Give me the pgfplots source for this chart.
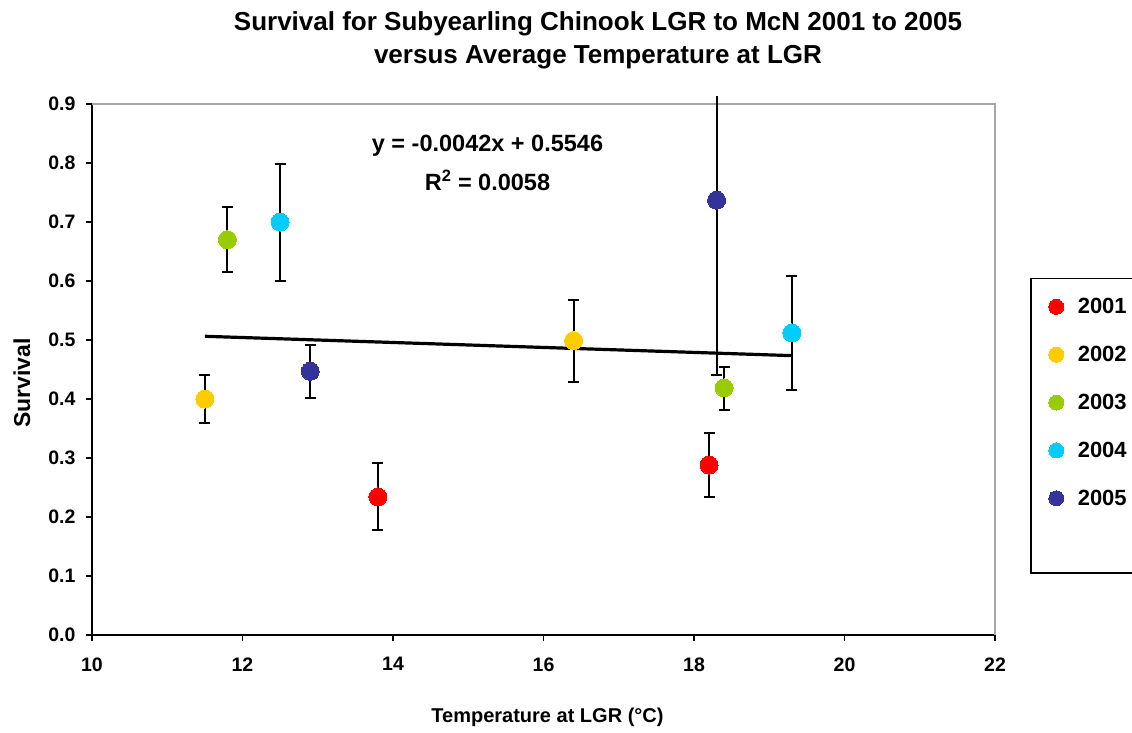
\documentclass[border=0pt]{standalone}
\usepackage{fontspec}
\setmainfont{Liberation Sans}
\usepackage{pgfplots}
\usepackage{pgfplotstable}
\pgfplotsset{compat=1.18}
\definecolor{c2001}{HTML}{FF0000}
\definecolor{c2002}{HTML}{FFCC00}
\definecolor{c2003}{HTML}{99CC00}
\definecolor{c2004}{HTML}{00CCFF}
\definecolor{c2005}{HTML}{333399}
\pgfplotstableread{
x y ep em
13.8 0.234 0.057 0.056
18.2 0.288 0.054 0.054
}\tA
\pgfplotstableread{
x y ep em
11.5 0.400 0.041 0.041
16.4 0.499 0.069 0.070
}\tB
\pgfplotstableread{
x y ep em
11.8 0.670 0.055 0.055
18.4 0.419 0.036 0.038
}\tC
\pgfplotstableread{
x y ep em
12.5 0.700 0.099 0.100
19.3 0.512 0.096 0.097
}\tD
\pgfplotstableread{
x y ep em
12.9 0.447 0.044 0.045
18.3 0.737 0.000 0.296
}\tE
\begin{document}
\begin{tikzpicture}
\useasboundingbox (0pt,0pt) rectangle (1132pt,732pt);
\node[font=\fontsize{26}{33}\selectfont\bfseries, align=center] at (598pt,692pt) {Survival for Subyearling Chinook LGR to McN 2001 to 2005\\versus Average Temperature at LGR};
\node[font=\fontsize{23.5}{27}\selectfont\bfseries] at (487.5pt,586pt) {y = -0.0042x + 0.5546};
\node[font=\fontsize{23.5}{27}\selectfont\bfseries] at (487.5pt,552pt) {R\textsuperscript{2} = 0.0058};
\node[rotate=90, font=\fontsize{23}{27}\selectfont\bfseries] at (22pt,349pt) {Survival};
\node[font=\fontsize{20}{24}\selectfont\bfseries] at (547.5pt,15pt) {Temperature at LGR (°C)};
\begin{axis}[
  at={(92pt,97pt)}, anchor=south west, scale only axis,
  width=903pt, height=531pt,
  xmin=10, xmax=22, ymin=0, ymax=0.9,
  xtick={10,12,14,16,18,20,22},
  ytick={0,0.1,0.2,0.3,0.4,0.5,0.6,0.7,0.8,0.9},
  yticklabel style={/pgf/number format/fixed, /pgf/number format/fixed zerofill, /pgf/number format/precision=1, xshift=-7pt},
  /pgf/number format/assume math mode=true,
  tick label style={font=\fontsize{19.5}{22}\selectfont\bfseries},
  xticklabel style={yshift=-13pt},
  axis x line*=bottom, axis y line*=left,
  axis line style={black, line width=1.6pt},
  tick style={black, line width=1.6pt},
  tick align=outside, major tick length=6pt,
  clip=false,
  legend style={at={(rel axis cs:1.056,0.672)}, anchor=north west, draw=none, fill=none,
    font=\fontsize{22}{25}\selectfont\bfseries, row sep=27pt, inner ysep=18pt,
    nodes={inner xsep=6pt},
    /tikz/every odd column/.append style={column sep=8pt}},
  legend cell align=left,
  legend image post style={mark size=7.5pt},
  every axis plot/.append style={line width=2pt},
  my err/.style={error bars/.cd, y dir=both, y explicit,
    error bar style={black, line width=2pt},
    error mark=|,
    error mark options={black, line width=2pt, mark size=5.5pt}},
]
\draw[gray!70, line width=1.6pt] (rel axis cs:0,1) -- (rel axis cs:1,1) -- (rel axis cs:1,0);
\addplot[black, line width=3.2pt, forget plot] coordinates {(11.5,0.5063) (19.3,0.4735)};
\addplot[draw=none, mark=none, forget plot, error bars/.cd, y dir=plus, y explicit,
  error bar style={black, line width=2pt}, error mark=none]
  coordinates {(18.3,0.737) +- (0,0.177)};
\addplot[only marks, mark=*, mark size=9pt, mark options={fill=c2001, draw=c2001, line width=0pt}, my err]
  table[x=x, y=y, y error plus=ep, y error minus=em]{\tA};
\addlegendentry{2001}
\addplot[only marks, mark=*, mark size=9pt, mark options={fill=c2002, draw=c2002, line width=0pt}, my err]
  table[x=x, y=y, y error plus=ep, y error minus=em]{\tB};
\addlegendentry{2002}
\addplot[only marks, mark=*, mark size=9pt, mark options={fill=c2003, draw=c2003, line width=0pt}, my err]
  table[x=x, y=y, y error plus=ep, y error minus=em]{\tC};
\addlegendentry{2003}
\addplot[only marks, mark=*, mark size=9pt, mark options={fill=c2004, draw=c2004, line width=0pt}, my err]
  table[x=x, y=y, y error plus=ep, y error minus=em]{\tD};
\addlegendentry{2004}
\addplot[only marks, mark=*, mark size=9pt, mark options={fill=c2005, draw=c2005, line width=0pt}, my err]
  table[x=x, y=y, y error plus=ep, y error minus=em]{\tE};
\addlegendentry{2005}
\draw[black, line width=1.3pt] (rel axis cs:1.04,0.672) -- (rel axis cs:1.2,0.672)
  (rel axis cs:1.04,0.672) -- (rel axis cs:1.04,0.117) -- (rel axis cs:1.2,0.117);
\end{axis}
\end{tikzpicture}
\end{document}
